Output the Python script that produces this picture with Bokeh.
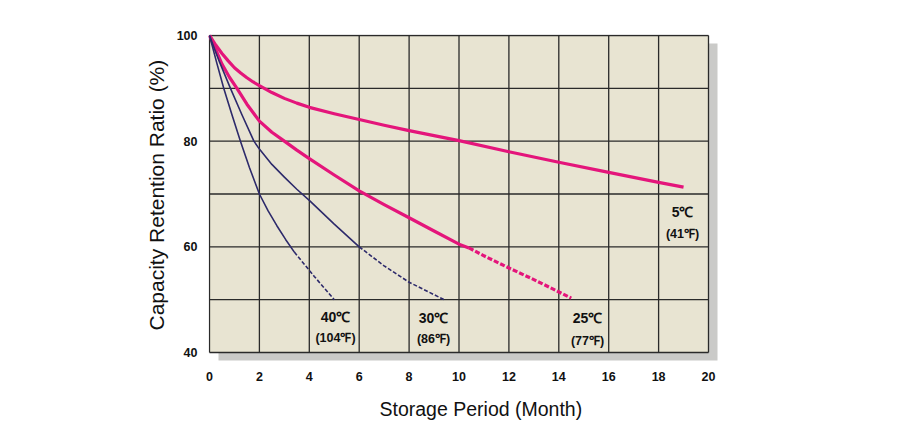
from bokeh.plotting import figure
from bokeh.models import FixedTicker, Title
from bokeh.core.properties import value
from bokeh.embed import file_html
from bokeh.resources import INLINE

# ---- data ----
x_ticks = [0, 2, 4, 6, 8, 10, 12, 14, 16, 18, 20]
y_ticks = [40, 60, 80, 100]
y_grid = [40, 50, 60, 70, 80, 90, 100]

m_5c = [0, 0.25, 0.5, 0.75, 1, 1.25, 1.5, 1.75, 2, 2.5, 3, 3.5, 4, 5, 6, 7, 8, 10, 12, 14, 16, 18, 19]
r_5c = [100, 98.2, 96.6, 95.2, 93.9, 92.9, 92.0, 91.2, 90.5, 89.2, 88.1, 87.2, 86.4, 85.2, 84.1, 83.0, 82.0,
        80.1, 78.0, 76.0, 74.1, 72.2, 71.3]

m_25c = [0, 0.25, 0.5, 0.8, 1.1, 1.5, 2, 2.5, 3, 3.5, 4, 5, 6, 7, 8, 9, 10, 10.4]
r_25c = [100, 97.3, 94.6, 92.1, 90.0, 87.0, 83.8, 81.7, 80.0, 78.3, 76.7, 73.6, 70.6, 68.0, 65.5, 63.0, 60.5, 59.8]
m_25c_est = [10.4, 11, 12, 13, 14.5]
r_25c_est = [59.8, 58.3, 56.0, 53.8, 50.3]

m_30c = [0, 0.4, 0.84, 1.3, 1.78, 2, 2.5, 3, 3.5, 4, 5, 6]
r_30c = [100, 95.0, 90.0, 85.0, 80.0, 78.5, 75.6, 73.2, 70.9, 68.8, 64.3, 60.0]
m_30c_est = [6, 7, 8, 9.4]
r_30c_est = [60.0, 56.4, 53.3, 50.0]

m_40c = [0, 0.28, 0.57, 0.9, 1.24, 1.6, 2, 2.35, 2.7, 3.05, 3.4]
r_40c = [100, 95.0, 90.0, 85.0, 80.0, 75.0, 70.0, 66.8, 64.0, 61.4, 59.0]
m_40c_est = [3.4, 4.2, 5.0]
r_40c_est = [59.0, 54.4, 50.0]

label_c = ["40\u2103", "30\u2103", "25\u2103", "5\u2103"]
label_f = ["(104\u2109)", "(86\u2109)", "(77\u2109)", "(41\u2109)"]
# label anchor positions (layout)
lab_x = [5.05, 8.98, 15.15, 18.96]
lab_y_c = [46.8, 46.6, 46.6, 66.5]
lab_y_f = [42.8, 42.6, 42.2, 62.5]

# ---- style ----
PINK = "#E4157B"
NAVY = "#2D2A6B"
GRID = "#2A2A2A"
BEIGE = "#E8E4D2"
SHADOW = "#CACAC8"
PX_X = 24.95   # pixels per month
PX_Y = 5.28    # pixels per percent

p = figure(
    frame_width=510, frame_height=327,
    x_range=(-1 / PX_X, 20 + 10 / PX_X),
    y_range=(40 - 9 / PX_Y, 100 + 1 / PX_Y),
    output_backend="svg", toolbar_location=None,
    min_border_left=208, min_border_right=184,
    min_border_top=34, min_border_bottom=82,
)
p.outline_line_color = None
p.background_fill_color = "white"
p.border_fill_color = "white"
p.xgrid.visible = False
p.ygrid.visible = False

# shadow and panel
sx, sy = 9 / PX_X, 8 / PX_Y
p.quad(left=[0 + sx], right=[20 + sx], bottom=[40 - sy], top=[100 - sy],
       fill_color=SHADOW, line_color=None)
p.quad(left=[0], right=[20], bottom=[40], top=[100],
       fill_color=BEIGE, line_color=None)

# grid
p.segment(x0=x_ticks, x1=x_ticks, y0=[40] * len(x_ticks), y1=[100] * len(x_ticks),
          line_color=GRID, line_width=1.3)
p.segment(x0=[0] * len(y_grid), x1=[20] * len(y_grid), y0=y_grid, y1=y_grid,
          line_color=GRID, line_width=1.3)

# curves
p.line(m_5c, r_5c, line_color=PINK, line_width=3.2, line_join="round")
p.line(m_25c, r_25c, line_color=PINK, line_width=3.2, line_join="round")
p.line(m_25c_est, r_25c_est, line_color=PINK, line_width=3.2, line_dash="5 2")
p.line(m_30c, r_30c, line_color=NAVY, line_width=1.6, line_join="round")
p.line(m_30c_est, r_30c_est, line_color=NAVY, line_width=1.6, line_dash="4 2")
p.line(m_40c, r_40c, line_color=NAVY, line_width=1.6, line_join="round")
p.line(m_40c_est, r_40c_est, line_color=NAVY, line_width=1.6, line_dash="4 2")

# temperature labels
p.text(x=lab_x, y=lab_y_c, text=label_c, text_font=value("Liberation Sans"),
       text_font_style="bold", text_font_size="14px", text_color="#111111",
       text_align="center", text_baseline="middle")
p.text(x=lab_x, y=lab_y_f, text=label_f, text_font=value("Liberation Sans"),
       text_font_style="bold", text_font_size="12.5px", text_color="#111111",
       text_align="center", text_baseline="middle")

# axes
for ax in (p.xaxis, p.yaxis):
    ax.axis_line_color = None
    ax.major_tick_line_color = None
    ax.minor_tick_line_color = None
    ax.major_label_text_font = "Liberation Sans"
    ax.major_label_text_font_style = "bold"
    ax.major_label_text_font_size = "12.5px"
    ax.major_label_text_color = "#111111"
p.xaxis.ticker = FixedTicker(ticks=x_ticks)
p.yaxis.ticker = FixedTicker(ticks=y_ticks)
p.xaxis.major_label_standoff = 4
p.yaxis.major_label_standoff = 5

# axis titles
yt = Title(text="Capacity Retention Ratio (%)", align="left", offset=31,
           text_font="Liberation Sans", text_font_style="normal",
           text_font_size="21px", text_color="#111111", standoff=12)
p.add_layout(yt, "left")
xt = Title(text="Storage Period (Month)", align="left", offset=171,
           text_font="Liberation Sans", text_font_style="normal",
           text_font_size="19.5px", text_color="#111111", standoff=25)
p.add_layout(xt, "below")

open("out.html", "w").write(file_html(p, INLINE))
